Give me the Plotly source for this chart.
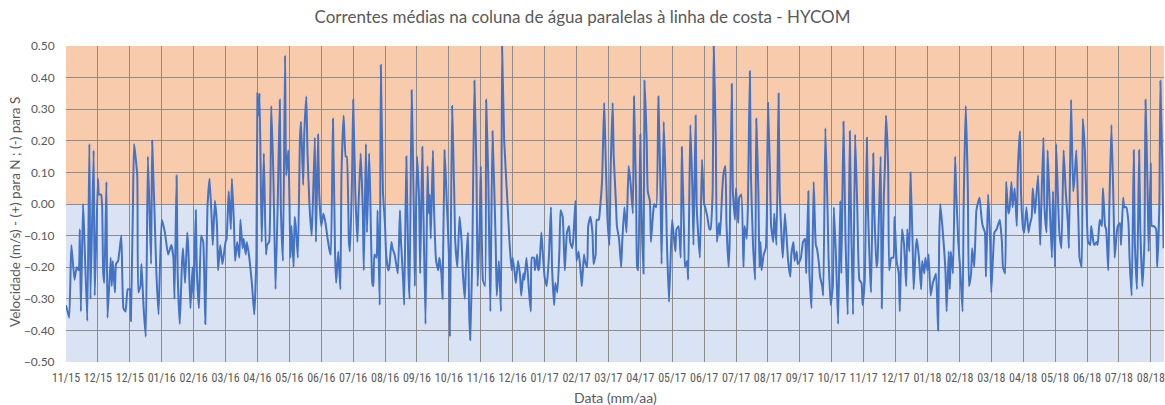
import pandas as pd
import plotly.graph_objects as go

# Depth-averaged alongshore current (HYCOM); day offsets from 2015-11-01
start_date = "2015-11-01"
end_offset_days = 1032.4

day_offset = [
    0, 3, 5, 8, 10, 12, 13, 14, 16, 17, 20, 22, 23, 26, 27, 30, 31, 33, 34, 35, 36, 38, 39, 42, 43, 44, 46, 47, 49,
    52, 54, 56, 58, 60, 61, 63, 64, 67, 68, 70, 71, 73, 75, 77, 80, 81, 85, 87, 90, 93, 96, 99,
    101, 102, 104, 105, 107, 109, 110, 112, 114, 115, 117, 119, 120, 122, 123, 125, 127, 129, 131, 133, 135, 137,
    138, 140, 142, 143, 145, 147, 148, 150, 151, 153, 155, 156, 158, 159, 161, 163, 164, 166, 167, 169, 170, 172,
    173, 175, 177, 179, 180, 181, 182, 184, 186, 188, 189, 191, 193, 195, 197, 199, 201, 202, 204,
    206, 207, 209, 210, 211, 212, 214, 215, 216, 218, 220, 221, 223, 224, 226, 227, 229, 231, 232, 234, 235, 237,
    238, 240, 242, 244, 246, 248, 249, 251, 253, 254, 256, 258, 259, 261, 263, 264, 266, 267, 269, 270, 272, 274,
    275, 277, 279, 280, 282, 283, 285, 286, 288, 289, 290, 292, 293, 295, 296, 298, 300, 301, 303, 304, 306, 307,
    309, 312,
    314, 315, 317, 318, 320, 322, 323, 325, 327, 328, 330, 332, 333, 335, 336, 338, 340, 341, 342, 343, 345, 346,
    348, 350, 351, 353, 354, 356, 358, 360, 361, 363, 365, 366, 368, 370, 372, 373, 375, 376, 378, 379, 380, 382,
    384, 386, 387, 389, 390, 392, 394, 395, 397, 399, 401, 404, 405, 407, 409, 410, 412, 415, 417, 419, 420,
    422, 423, 425, 427, 428, 430, 431, 433, 435, 437, 438, 440, 441, 443, 444, 445, 447, 448, 450, 452, 454, 456,
    457, 459, 460, 462, 464, 465, 467, 468, 469, 471, 473, 474, 476, 477, 479, 480, 482, 484, 485, 487, 488, 490,
    491, 493, 495, 496, 498, 499, 501, 502, 504, 506, 507, 509, 511, 512, 514, 515, 517, 518, 520, 522, 523, 525,
    527, 529,
    531, 533, 534, 536, 537, 538, 540, 541, 543, 544, 546, 547, 549, 550, 552, 553, 555, 557, 559, 560, 562, 564,
    565, 567, 569, 570, 572, 573, 574, 576, 578, 579, 581, 582, 584, 585, 587, 589, 590, 592, 593, 596, 598, 600,
    601, 603, 605, 606, 608, 609, 611, 612, 614, 615, 617, 618, 620, 621, 623, 624, 626, 627, 629, 630, 632, 633,
    635, 637,
    638, 640, 641, 643, 644, 646, 648, 649, 651, 652, 653, 654, 656, 658, 659, 660, 662, 663, 665, 666, 668, 670,
    671, 673, 674, 676, 678, 679, 681, 682, 684, 685, 687, 688, 690, 691, 693, 695, 696, 698, 699, 701, 703, 705,
    706, 708, 709, 711, 712, 714, 716, 717, 719, 721, 722, 724, 726, 728, 729, 731, 733, 735, 737, 738, 740, 742,
    744,
    746, 748, 749, 751, 753, 754, 756, 757, 759, 760, 762, 763, 766, 767, 769, 770, 771, 773, 774, 776, 778, 779,
    781, 783, 784, 786, 788, 790, 791, 793, 794, 796, 797, 799, 800, 802, 804, 805, 807, 808, 810, 811, 813, 815,
    816, 818, 820, 821, 822, 824, 826, 827, 828, 830, 831, 832, 834, 836, 837, 839, 841, 843, 844, 846, 848, 849,
    851, 852, 854,
    856, 858, 859, 861, 862, 864, 865, 867, 869, 870, 872, 873, 875, 876, 878, 880, 881, 883, 884, 886, 887, 889,
    890, 892, 894, 895, 897, 898, 900, 901, 903, 905, 906, 908, 909, 911, 912, 914, 916, 917, 919, 920, 922, 923,
    925, 927, 928, 930, 931, 933, 934, 936, 938, 940, 942, 943, 945, 947,
    948, 950, 952, 953, 955, 956, 958, 959, 961, 963, 964, 966, 967, 969, 970, 972, 974, 975, 977, 978, 980, 981,
    983, 985, 986, 988, 989, 991, 992, 994, 995, 997, 999, 1000, 1002, 1004, 1005, 1007, 1009, 1010, 1012, 1014,
    1015, 1017, 1018, 1020, 1021, 1023, 1025, 1026, 1028, 1029, 1031, 1032,
]

velocity = [
    -0.32, -0.36, -0.13, -0.24, -0.20, -0.21, -0.08, -0.34, 0.00, -0.08, -0.37, 0.19, -0.30, 0.17, -0.29, 0.08, 0.03,
    0.03, -0.01, -0.22, -0.25, 0.07, -0.36, -0.17, -0.26, -0.18, -0.28, -0.19, -0.18,
    -0.10, -0.33, -0.34, -0.27, -0.27, -0.37, 0.01, 0.19, 0.09, -0.28, -0.26, -0.19, -0.33, -0.42, 0.15, -0.19, 0.20,
    -0.22, -0.35, -0.05, -0.09, -0.16, -0.13,
    -0.17, -0.30, 0.09, -0.22, -0.38, -0.19, -0.14, -0.25, -0.09, -0.14, -0.33, -0.20, -0.30, -0.02, -0.21, -0.33,
    -0.10, -0.12, -0.38, -0.01, 0.08, -0.05,
    -0.13, 0.01, -0.07, -0.21, -0.13, -0.19, -0.17, -0.12, -0.11, 0.04, -0.08, 0.08, -0.07, -0.18, -0.12, -0.17,
    -0.05, -0.14, -0.11, -0.16, -0.12, -0.16,
    -0.19, -0.26, -0.35, -0.17, 0.35, 0.28, 0.35, -0.12, 0.16, -0.16, -0.13, -0.12, 0.31, 0.09, -0.27, -0.01, 0.33,
    -0.01, -0.18,
    0.47, 0.09, 0.17, 0.03, -0.17, -0.07, -0.20, -0.04, -0.07, -0.17, 0.21, 0.26, 0.06, 0.22, 0.34, 0.17, -0.01,
    -0.10, -0.01, 0.21, -0.12, 0.22,
    0.04, -0.07, -0.03, -0.06, -0.11, -0.15, -0.16, 0.27, -0.16, -0.25, -0.15, -0.27, 0.09, 0.28, 0.15, 0.15, -0.12,
    -0.15, 0.09, 0.33, 0.04, -0.12,
    -0.01, 0.16, -0.01, -0.21, 0.19, -0.09, 0.16, 0.04, -0.25, -0.26, -0.16, -0.17, -0.02, -0.32, 0.44, 0.04, -0.07,
    -0.16, -0.21, -0.20, -0.12, -0.14,
    -0.16, -0.22,
    -0.02, -0.12, -0.24, -0.32, 0.15, -0.22, -0.30, 0.36, -0.01, -0.26, 0.15, 0.01, -0.22, 0.18, -0.01, -0.38, 0.12,
    -0.03, 0.03, -0.11, 0.17, -0.01,
    -0.18, -0.21, -0.17, -0.22, -0.30, 0.17, 0.01, -0.16, -0.42, 0.31, 0.04, -0.12, -0.20, -0.04, -0.12, -0.21,
    -0.30, -0.20, -0.09, -0.33, -0.43, -0.17,
    0.39, 0.09, -0.26, -0.06, 0.12, -0.24, -0.26, 0.33, 0.09, -0.34, 0.23, -0.12, -0.29, -0.18, -0.34, 0.50, 0.20,
    0.01, -0.12, -0.21, -0.17,
    -0.22, -0.25, -0.18, -0.23, -0.29, -0.22, -0.24, -0.17, -0.26, -0.34, -0.17, -0.17, -0.21, -0.16, -0.21, -0.20,
    -0.09, -0.14, -0.23, -0.26, -0.17, -0.01,
    -0.20, -0.32, -0.25, -0.28, -0.14, -0.02, -0.04, -0.12, -0.21, -0.09, -0.07, -0.12, -0.14, -0.11, 0.01, -0.18,
    -0.15, -0.22, -0.26, -0.16, -0.18, -0.20,
    -0.07, -0.04, -0.09, -0.19, -0.16, -0.05, -0.05, -0.02, 0.07, 0.32, 0.20, -0.04, -0.13, 0.09, 0.32, 0.15, 0.01,
    -0.07, -0.11, -0.20, -0.12, -0.01,
    -0.09, 0.12,
    0.06, -0.03, 0.34, 0.04, -0.20, -0.21, 0.22, -0.01, -0.22, 0.39, 0.20, 0.04, 0.01, -0.12, -0.03, 0.00, -0.01,
    0.34, 0.04, -0.19, 0.26, 0.04,
    -0.12, -0.31, -0.12, -0.05, -0.12, -0.15, -0.08, -0.07, -0.17, 0.18, -0.07, -0.20, -0.18, -0.24, 0.25, 0.04,
    -0.13, 0.28, -0.01, -0.17, 0.14, 0.00,
    -0.01, -0.04, -0.08, -0.08, 0.04, 0.50, 0.20, -0.12, -0.06, -0.10, 0.04, 0.09, 0.12, -0.06, -0.20, -0.12, 0.38,
    0.04, -0.05, 0.05, -0.06, 0.02,
    0.03, -0.20,
    -0.07, -0.11, -0.03, 0.42, 0.09, -0.13, -0.24, 0.27, 0.04, -0.20, -0.12, -0.21, -0.16, -0.14, -0.03, 0.32, 0.09,
    -0.07, -0.12, -0.03, -0.13, 0.35,
    0.04, -0.12, -0.17, -0.03, -0.13, -0.18, -0.23, -0.16, -0.12, -0.18, -0.15, -0.19, -0.18, -0.17, -0.12, -0.11,
    -0.22, 0.04, -0.22, -0.33, 0.07, -0.13,
    -0.14, -0.19, -0.23, -0.26, -0.29, 0.24, -0.01, -0.17, -0.32, -0.26, -0.01, -0.17, -0.38, 0.01, -0.22, 0.26,
    -0.12, -0.35, 0.23, -0.01, -0.35, 0.22,
    -0.01,
    -0.24, -0.25, -0.32, -0.24, 0.21, -0.01, -0.22, -0.28, 0.16, -0.01, -0.20, -0.18, 0.15, -0.33, 0.03, 0.12, 0.28,
    0.12, -0.21, -0.17, -0.17, -0.04,
    -0.18, -0.22, -0.34, -0.08, -0.13, -0.26, -0.08, -0.15, 0.10, -0.12, -0.27, -0.14, -0.11, -0.17, -0.27, -0.18,
    -0.22, -0.17, -0.21, -0.16, -0.29, -0.25,
    -0.24, -0.22, -0.40, -0.12, 0.00, -0.07, -0.16, -0.22, -0.34, -0.15, -0.27, -0.15, -0.22, 0.15, 0.04, -0.12,
    -0.22, -0.34, -0.01, 0.31, 0.04, -0.26,
    -0.22, -0.14, -0.20,
    -0.02, 0.01, 0.02, -0.05, -0.07, -0.09, -0.23, 0.03, -0.12, -0.28, -0.14, -0.09, -0.08, -0.07, -0.05, -0.12,
    -0.20, -0.22, 0.07, -0.03, -0.02, 0.07,
    -0.01, 0.05, -0.07, 0.11, 0.23, 0.03, -0.08, -0.09, -0.01, -0.09, -0.07, -0.04, 0.05, -0.03, 0.01, 0.09, -0.13,
    -0.01, 0.21, -0.01, -0.09, 0.17,
    -0.01, -0.17, 0.04, -0.20, 0.19, -0.01, -0.09, -0.14, 0.17, 0.04, -0.06, -0.14, 0.33, 0.04,
    0.07, 0.17, -0.06, -0.17, -0.20, 0.27, 0.17, 0.06, -0.12, -0.13, -0.07, -0.12, -0.13, -0.12, -0.13, -0.05,
    -0.07, 0.05, -0.07, -0.08, -0.21, -0.01,
    0.25, -0.01, -0.17, -0.09, -0.07, -0.06, -0.13, 0.02, -0.01, -0.01, -0.06, -0.17, -0.29, 0.17, -0.12, -0.27,
    0.17, -0.06, -0.26, -0.12,
    0.33, 0.04, -0.15, 0.13, -0.07, -0.07, -0.08, -0.20, -0.01, 0.39, 0.09, -0.14,
]

y_ticks = [-0.5, -0.4, -0.3, -0.2, -0.1, 0.0, 0.1, 0.2, 0.3, 0.4, 0.5]

title_text = "Correntes médias na coluna de água paralelas à linha de costa - HYCOM"
y_title = "Velocidade (m/s) - (+) para N ; (-) para S"
x_title = "Data (mm/aa)"

t0 = pd.Timestamp(start_date)
dates = t0 + pd.to_timedelta(day_offset, unit="D")
x_end = t0 + pd.to_timedelta(end_offset_days, unit="D")

TEXT = "#595959"
GRID = "#8c8c8c"
FONT = "Lato, 'Open Sans', sans-serif"
NARROW = "'Liberation Sans Narrow', 'Roboto Condensed', 'DejaVu Sans Condensed', Lato, sans-serif"

fig = go.Figure()
fig.add_trace(go.Scatter(
    x=dates, y=velocity, mode="lines",
    line=dict(color="#4472C4", width=2, shape="spline", smoothing=0.4),
    hoverinfo="x+y", showlegend=False,
))

# northward (positive) and southward (negative) background bands
fig.add_shape(type="rect", xref="paper", yref="y", x0=0, x1=1, y0=0, y1=max(y_ticks),
              fillcolor="#F8CBAD", line_width=0, layer="below")
fig.add_shape(type="rect", xref="paper", yref="y", x0=0, x1=1, y0=min(y_ticks), y1=0,
              fillcolor="#DAE3F3", line_width=0, layer="below")

fig.update_layout(
    width=1165, height=405,
    margin=dict(l=66, r=1, t=46, b=43),
    paper_bgcolor="white", plot_bgcolor="white",
    font=dict(family=FONT, color=TEXT, size=11),
    title=dict(text=title_text, x=0.5, xref="container", xanchor="center",
               y=1 - 17 / 405, yref="container", yanchor="middle",
               font=dict(size=17, color=TEXT, family=FONT)),
    xaxis=dict(
        type="date", range=[t0, x_end],
        tick0=t0, dtick=30 * 86400000, tickformat="%m/%y",
        tickangle=0, ticklabeloverflow="allow",
        showgrid=True, gridcolor=GRID, gridwidth=1,
        ticks="outside", ticklen=5, tickcolor="rgba(0,0,0,0)",
        tickfont=dict(size=12, color=TEXT, family=NARROW),
        showline=False, zeroline=False,
    ),
    yaxis=dict(
        range=[min(y_ticks), max(y_ticks)], tickvals=y_ticks, tickformat=".2f",
        showgrid=True, gridcolor=GRID, gridwidth=1,
        ticks="outside", ticklen=8, tickcolor="rgba(0,0,0,0)",
        tickfont=dict(size=12, color=TEXT),
        showline=False, zeroline=False,
    ),
    annotations=[
        dict(text=y_title, xref="paper", yref="paper", x=-51 / 1098, y=0.475,
             xanchor="center", yanchor="middle", textangle=-90, showarrow=False,
             font=dict(size=13.5, color=TEXT, family=FONT)),
        dict(text=x_title, xref="paper", yref="paper", x=0.5, y=-35 / 316,
             xanchor="center", yanchor="middle", showarrow=False,
             font=dict(size=14, color=TEXT, family=FONT)),
    ],
)

fig.write_html("out.html")
